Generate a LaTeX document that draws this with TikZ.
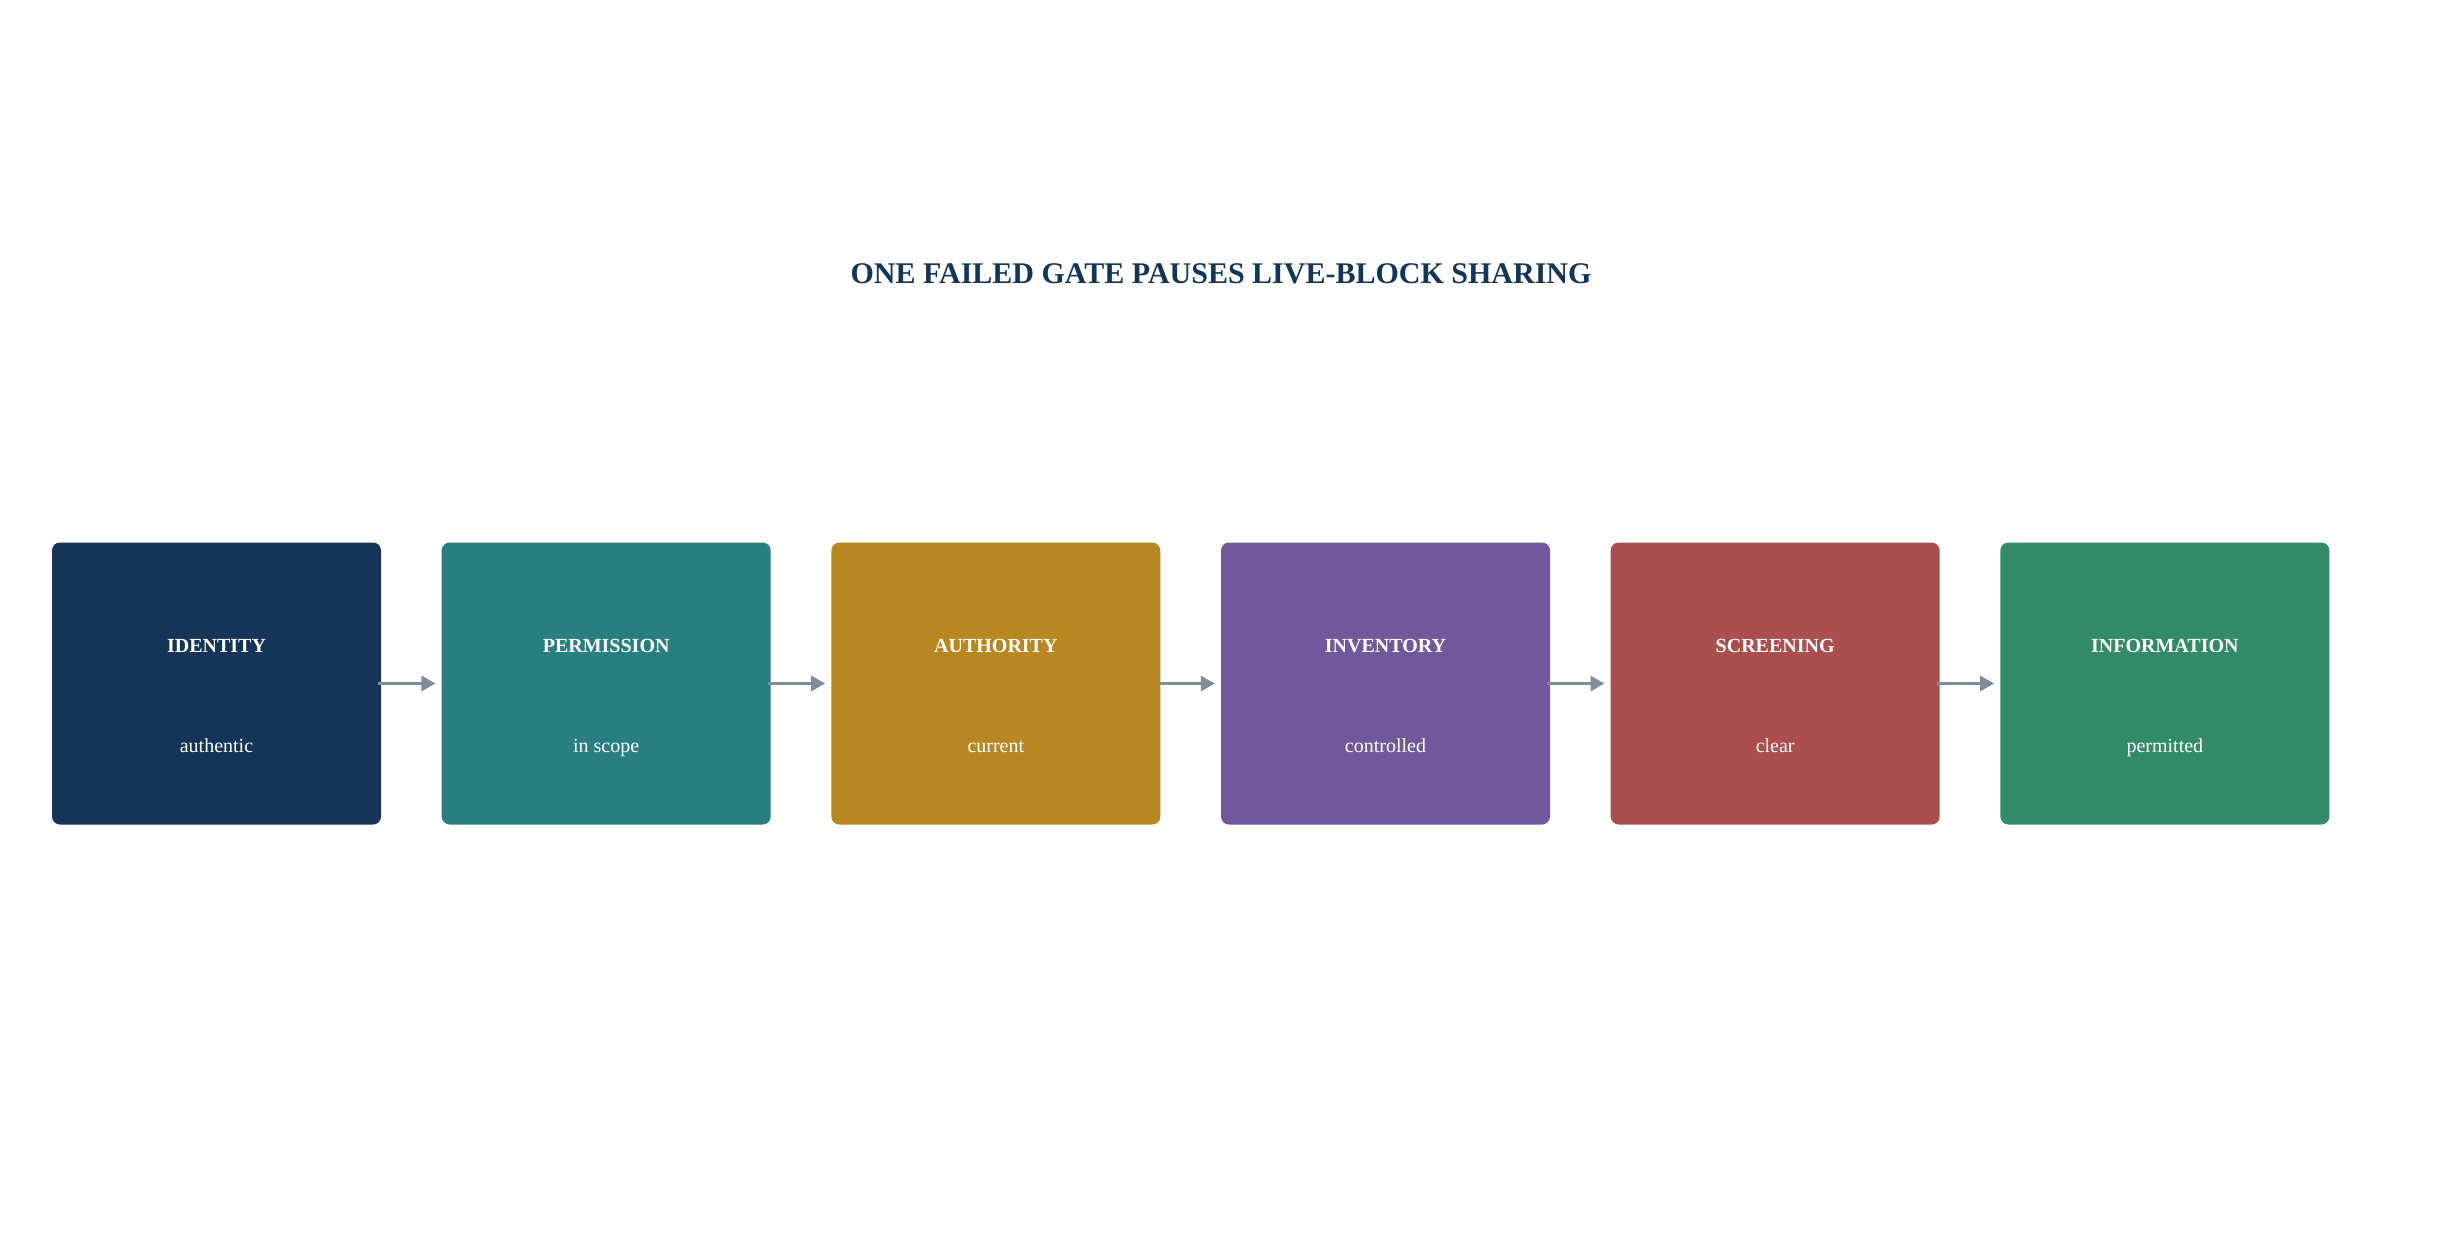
\documentclass[tikz,border=0pt]{standalone}
\usepackage{fontspec}
\setmainfont{Liberation Serif}
\usetikzlibrary{arrows.meta}
\definecolor{navy}{HTML}{143557}
\definecolor{tealc}{HTML}{297E82}
\definecolor{goldc}{HTML}{B88720}
\definecolor{purplec}{HTML}{71589B}
\definecolor{redc}{HTML}{AB4E4E}
\definecolor{greenc}{HTML}{318B69}
\definecolor{arrowc}{HTML}{7F8C99}
\definecolor{titlec}{HTML}{14355A}
\tikzset{
  gatebox/.style={draw=none, rounded corners=8pt, minimum width=329pt, minimum height=282pt, inner sep=0pt},
  gatetitle/.style={anchor=base, text=white, font=\fontsize{20}{24}\selectfont\bfseries, inner sep=0pt},
  gatesub/.style={anchor=base, text=white, font=\fontsize{20}{24}\selectfont, inner sep=0pt},
  flow/.style={draw=arrowc, line width=3pt, -{Triangle[length=14pt,width=15pt]}, shorten >=6pt, shorten <=-3pt},
  headline/.style={anchor=base, text=titlec, font=\fontsize{30}{36}\selectfont\bfseries, inner sep=0pt}
}
\begin{document}
\begin{tikzpicture}[x=1pt,y=-1pt]
\useasboundingbox (0,0) rectangle (2441,1253);
\node[headline] (title) at (1221,283) {ONE FAILED GATE PAUSES LIVE-BLOCK SHARING};
\foreach \i/\c/\t/\s in {1/navy/IDENTITY/authentic,2/tealc/PERMISSION/in scope,3/goldc/AUTHORITY/current,4/purplec/INVENTORY/controlled,5/redc/SCREENING/clear,6/greenc/INFORMATION/permitted}{
  \pgfmathsetmacro{\cx}{216.5+(\i-1)*389.67}
  \node[gatebox, fill=\c] (b\i) at (\cx,683.5) {};
  \node[gatetitle] (t\i) at (\cx,652) {\t};
  \node[gatesub] (s\i) at (\cx,752) {\s};
}
\foreach \a/\b in {1/2,2/3,3/4,4/5,5/6}{
  \draw[flow] (b\a.east) -- (b\b.west);
}
\end{tikzpicture}
\end{document}
